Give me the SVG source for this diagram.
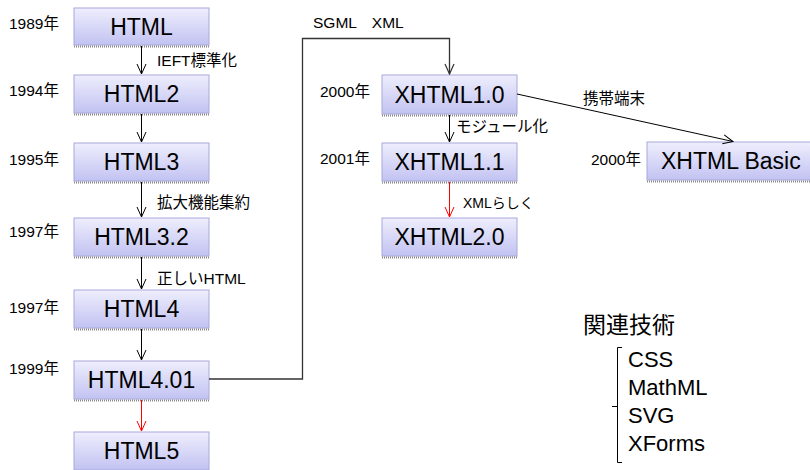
<svg xmlns="http://www.w3.org/2000/svg" width="810" height="470" viewBox="0 0 810 470">
<defs>
<linearGradient id="g" x1="0" y1="0" x2="0" y2="1">
<stop offset="0" stop-color="#eeeefd"/>
<stop offset="1" stop-color="#c2c2f2"/>
</linearGradient>
<marker id="ah" viewBox="-11 -6 12 12" refX="0" refY="0" markerWidth="12" markerHeight="12" markerUnits="userSpaceOnUse" orient="auto">
<path d="M-10,-4.5 L0,0 L-10,4.5" fill="none" stroke="#000" stroke-width="1"/>
</marker>
<marker id="ahr" viewBox="-11 -6 12 12" refX="0" refY="0" markerWidth="12" markerHeight="12" markerUnits="userSpaceOnUse" orient="auto">
<path d="M-10,-4.5 L0,0 L-10,4.5" fill="none" stroke="#ff0000" stroke-width="1"/>
</marker>
<marker id="ahg" viewBox="-11 -6 12 12" refX="0" refY="0" markerWidth="12" markerHeight="12" markerUnits="userSpaceOnUse" orient="auto">
<path d="M-10,-4.5 L0,0 L-10,4.5" fill="none" stroke="#333" stroke-width="1.2"/>
</marker>
</defs>
<style>
.box{fill:url(#g);stroke:#a8a8dc;stroke-width:1}
.sh{stroke:#888;stroke-width:2;stroke-dasharray:1 1}
.bt{font-family:"Liberation Sans",Arial,sans-serif;font-size:23px;fill:#000;text-anchor:middle}
.yr{font-family:"Liberation Sans","Noto Sans CJK JP",sans-serif;font-size:15.5px;fill:#000}
.lb{font-family:"Liberation Sans","Noto Sans CJK JP",sans-serif;font-size:15.5px;fill:#000}
.big{font-family:"Liberation Sans","Noto Sans CJK JP",sans-serif;font-size:22px;fill:#000}
.c{fill:none;stroke:#000;stroke-width:1}
.r{fill:none;stroke:#ff0000;stroke-width:1}
</style>

<g id="n-html"><rect class="box" x="74" y="8" width="135" height="37"/><line class="sh" x1="74" y1="46.5" x2="209" y2="46.5"/><text class="bt" x="141.5" y="35">HTML</text><text class="yr" x="9" y="29">1989年</text></g>
<g id="n-html2"><rect class="box" x="74" y="75" width="135" height="38"/><line class="sh" x1="74" y1="114.5" x2="209" y2="114.5"/><text class="bt" x="141.5" y="102">HTML2</text><text class="yr" x="9" y="96">1994年</text></g>
<g id="n-html3"><rect class="box" x="74" y="143" width="135" height="38"/><line class="sh" x1="74" y1="182.5" x2="209" y2="182.5"/><text class="bt" x="141.5" y="170">HTML3</text><text class="yr" x="9" y="165">1995年</text></g>
<g id="n-html32"><rect class="box" x="74" y="218" width="135" height="38"/><line class="sh" x1="74" y1="257.5" x2="209" y2="257.5"/><text class="bt" x="141.5" y="245">HTML3.2</text><text class="yr" x="9" y="237">1997年</text></g>
<g id="n-html4"><rect class="box" x="74" y="290" width="135" height="38"/><line class="sh" x1="74" y1="329.5" x2="209" y2="329.5"/><text class="bt" x="141.5" y="317">HTML4</text><text class="yr" x="9" y="313">1997年</text></g>
<g id="n-html401"><rect class="box" x="74" y="361" width="135" height="38"/><line class="sh" x1="74" y1="400.5" x2="209" y2="400.5"/><text class="bt" x="141.5" y="388">HTML4.01</text><text class="yr" x="9" y="374">1999年</text></g>
<g id="n-html5"><rect class="box" x="74" y="432" width="135" height="38"/><text class="bt" x="141.5" y="459">HTML5</text></g>

<g id="n-xhtml10"><rect class="box" x="382" y="75" width="135" height="39"/><line class="sh" x1="382" y1="115.5" x2="517" y2="115.5"/><text class="bt" x="449.5" y="103">XHTML1.0</text><text class="yr" x="320" y="97">2000年</text></g>
<g id="n-xhtml11"><rect class="box" x="382" y="143" width="135" height="38"/><line class="sh" x1="382" y1="182.5" x2="517" y2="182.5"/><text class="bt" x="449.5" y="170">XHTML1.1</text><text class="yr" x="320" y="164">2001年</text></g>
<g id="n-xhtml20"><rect class="box" x="382" y="218" width="135" height="38"/><line class="sh" x1="382" y1="257.5" x2="517" y2="257.5"/><text class="bt" x="449.5" y="245">XHTML2.0</text></g>
<g id="n-xbasic"><rect class="box" x="647" y="142" width="170" height="38"/><line class="sh" x1="647" y1="181.5" x2="817" y2="181.5"/><text class="bt" x="661" y="169" style="text-anchor:start">XHTML Basic</text><text class="yr" x="591" y="165">2000年</text></g>

<g id="connectors">
<line class="c" x1="141.5" y1="46" x2="141.5" y2="74" marker-end="url(#ah)"/>
<line class="c" x1="141.5" y1="114" x2="141.5" y2="142" marker-end="url(#ah)"/>
<line class="c" x1="141.5" y1="182" x2="141.5" y2="217" marker-end="url(#ah)"/>
<line class="c" x1="141.5" y1="257" x2="141.5" y2="289" marker-end="url(#ah)"/>
<line class="c" x1="141.5" y1="329" x2="141.5" y2="360" marker-end="url(#ah)"/>
<line class="r" x1="141.5" y1="400" x2="141.5" y2="431" marker-end="url(#ahr)"/>
<line class="c" x1="449.5" y1="115" x2="449.5" y2="142" marker-end="url(#ah)"/>
<line class="r" x1="449.5" y1="182" x2="449.5" y2="217" marker-end="url(#ahr)"/>
<path d="M209,379 H302.5 V38.5 H449.5 V74" fill="none" stroke="#333" stroke-width="1.3" marker-end="url(#ahg)"/>
<line class="c" x1="517" y1="94" x2="733" y2="141.5" marker-end="url(#ah)"/>
<text class="lb" x="157" y="66">IEFT標準化</text>
<text class="lb" x="157" y="208">拡大機能集約</text>
<text class="lb" x="157" y="284">正しいHTML</text>
<text class="lb" x="313" y="28" xml:space="preserve">SGML　XML</text>
<text class="lb" x="456" y="132">モジュール化</text>
<text class="lb" x="463" y="208" style="font-size:14px">XMLらしく</text>
<text class="lb" x="583" y="104">携帯端末</text>
</g>

<g id="related">
<text class="big" x="583" y="333" style="font-size:23px">関連技術</text>
<path d="M622,347.5 H617.5 V462.5 H622 M617.5,406.5 H612" fill="none" stroke="#000" stroke-width="1"/>
<text class="big" x="628" y="367">CSS</text>
<text class="big" x="628" y="395">MathML</text>
<text class="big" x="628" y="423">SVG</text>
<text class="big" x="628" y="451">XForms</text>
</g>
</svg>
